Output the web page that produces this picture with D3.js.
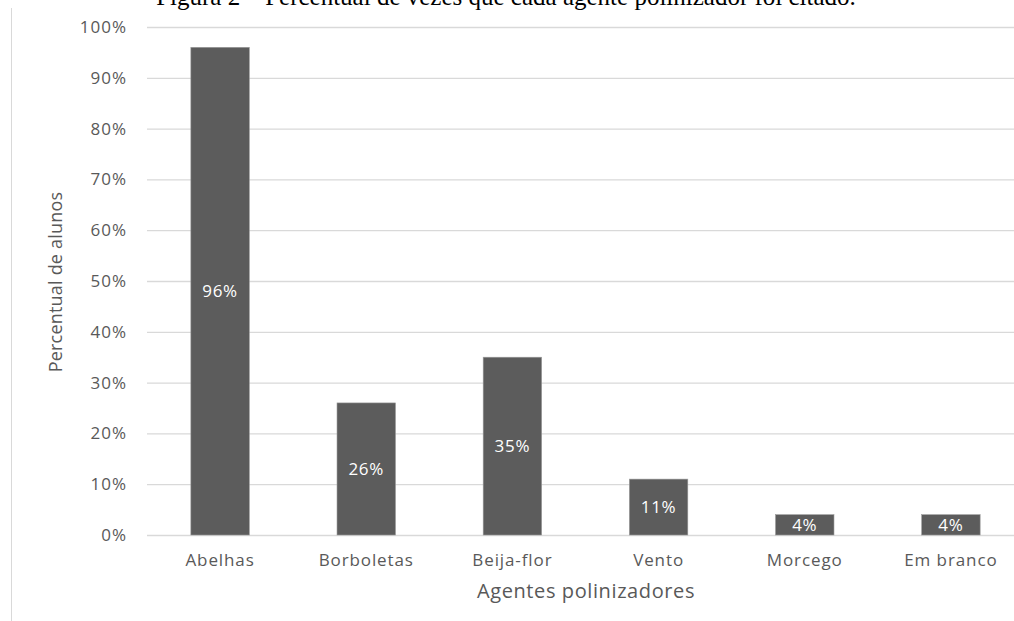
<!DOCTYPE html>
<html><head><meta charset="utf-8">
<script src="https://cdn.jsdelivr.net/npm/d3@7"></script>
<style>body{margin:0;background:#fff;}svg{display:block;}</style>
</head><body>
<script>
const categories = ["Abelhas","Borboletas","Beija-flor","Vento","Morcego","Em branco"];
const values = [96, 26, 35, 11, 4, 4];
const yTicks = [0,10,20,30,40,50,60,70,80,90,100];
const title = "Figura 2 – Percentual de vezes que cada agente polinizador foi citado.";
const xTitle = "Agentes polinizadores";
const yTitle = "Percentual de alunos";

const W = 1014, H = 621;
const svg = d3.select("body").append("svg").attr("width", W).attr("height", H);
const m = {left: 147, right: 1024, top: 27, bottom: 535};
const x = d3.scaleBand().domain(categories).range([m.left, m.right]).paddingInner(0.6).paddingOuter(0.3);
const y = d3.scaleLinear().domain([0,100]).range([m.bottom, m.top]);
const gray = "#595959", font = "'Open Sans', sans-serif";

// outer border line
svg.append("line").attr("x1",11.5).attr("x2",11.5).attr("y1",8).attr("y2",H).attr("stroke","#d9d9d9");

// title (cropped at the top edge as in the source figure)
svg.append("text").attr("x", 506).attr("y", 5).attr("text-anchor","middle")
  .attr("font-family","'Liberation Serif', 'Times New Roman', serif").attr("font-size",25).attr("fill","#000").text(title);

// grid
const ya = d3.axisLeft(y).tickValues(yTicks).tickFormat(d => d + "%").tickSize(-(W - m.left)).tickPadding(20);
const gy = svg.append("g").attr("transform", `translate(${m.left},0)`).call(ya);
gy.select(".domain").remove();
gy.selectAll(".tick line").attr("stroke","#d9d9d9").attr("stroke-width",1.3);
gy.selectAll(".tick text").attr("font-family",font).attr("font-size",17).attr("letter-spacing","1px")
  .attr("fill",gray).attr("x",-20);

// bars
svg.selectAll("rect.bar").data(values).join("rect").attr("class","bar")
  .attr("x",(d,i)=>x(categories[i])).attr("width",x.bandwidth())
  .attr("y",d=>y(d)).attr("height",d=>y(0)-y(d))
  .attr("fill","#5c5c5c").attr("stroke","#9a9a9a").attr("stroke-width",0.6);

// data labels
svg.selectAll("text.lbl").data(values).join("text").attr("class","lbl")
  .attr("x",(d,i)=>x(categories[i])+x.bandwidth()/2).attr("y",d=>(y(d)+y(0))/2)
  .attr("dy","0.36em").attr("text-anchor","middle").attr("font-family",font).attr("font-size",17)
  .attr("letter-spacing","0.7px").attr("fill","#ffffff").text(d=>d+"%");

// x axis labels
const xa = d3.axisBottom(x).tickSize(0).tickPadding(19);
const gx = svg.append("g").attr("transform",`translate(0,${m.bottom})`).call(xa);
gx.select(".domain").remove();
gx.selectAll(".tick text").attr("font-family",font).attr("font-size",17).attr("letter-spacing","0.9px").attr("fill",gray);

// axis titles
svg.append("text").attr("x",586).attr("y",591).attr("dy","0.35em").attr("text-anchor","middle")
  .attr("font-family",font).attr("font-size",20).attr("letter-spacing","0.6px").attr("fill",gray).text(xTitle);
svg.append("text").attr("transform","translate(56,282) rotate(-90)").attr("dy","0.35em").attr("text-anchor","middle")
  .attr("font-family",font).attr("font-size",18).attr("letter-spacing","0.2px").attr("fill",gray).text(yTitle);
</script>
</body></html>
